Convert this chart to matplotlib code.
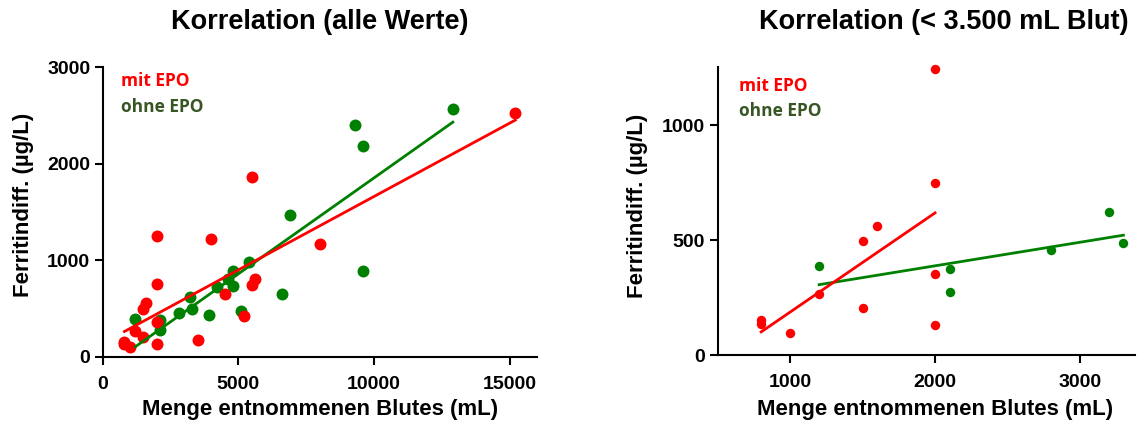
import numpy as np
import matplotlib
matplotlib.use("Agg")
import matplotlib.pyplot as plt

plt.rcParams['font.family'] = ['Liberation Sans', 'DejaVu Sans']
plt.rcParams['font.weight'] = 'bold'

# blood volume (mL) vs. ferritin difference (ug/L)
mit_x = [800, 800, 1000, 1200, 1500, 1500, 1600, 2000, 2000, 2000, 2000,
         3500, 4000, 4500, 5200, 5500, 5500, 5600, 8000, 15200]
mit_y = [152, 135, 97, 267, 495, 205, 560, 1245, 750, 355, 130,
         175, 1215, 650, 420, 1860, 745, 800, 1170, 2520]

ohne_x = [1200, 2100, 2100, 2800, 3200, 3300, 3900, 4200, 4600, 4800,
          4800, 5100, 5400, 6600, 6900, 9300, 9600, 9600, 12900]
ohne_y = [388, 375, 276, 457, 623, 489, 435, 720, 800, 890,
          730, 470, 980, 650, 1470, 2400, 2180, 890, 2560]

cutoff = 3500

RED = '#ff0000'
GREEN = '#008000'
TEXT_GREEN = '#375623'

W, H = 1144, 425
fig = plt.figure(figsize=(W / 100, H / 100), dpi=100)


def px_axes(x0, y0, x1, y1):
    # axes box given in pixel coords (top-left origin)
    return fig.add_axes([x0 / W, 1 - y1 / H, (x1 - x0) / W, (y1 - y0) / H])


def style(ax):
    for s in ['top', 'right']:
        ax.spines[s].set_visible(False)
    for s in ['left', 'bottom']:
        ax.spines[s].set_linewidth(1.5)
    ax.tick_params(axis='both', direction='out', length=6, width=1.5,
                   labelsize=14)
    ax.tick_params(axis='x', pad=8)
    ax.tick_params(axis='y', pad=3)
    for lab in ax.get_xticklabels() + ax.get_yticklabels():
        lab.set_fontweight('bold')


def fit_line(ax, x, y, color):
    x = np.asarray(x, float)
    y = np.asarray(y, float)
    k, d = np.polyfit(x, y, 1)
    xs = np.array([x.min(), x.max()])
    ax.plot(xs, k * xs + d, color=color, lw=2, zorder=3)


def panel(ax, mx, my, ox, oy, ms):
    ax.plot(ox, oy, 'o', color=GREEN, ms=ms, mew=0, zorder=2, clip_on=False)
    fit_line(ax, ox, oy, GREEN)
    ax.plot(mx, my, 'o', color=RED, ms=ms, mew=0, zorder=2, clip_on=False)
    fit_line(ax, mx, my, RED)


# left: all values
ax1 = px_axes(102.7, 67, 537, 356.7)
panel(ax1, mit_x, mit_y, ohne_x, ohne_y, 8.6)
ax1.set_xlim(0, 16000)
ax1.set_ylim(0, 3000)
ax1.set_xticks([0, 5000, 10000, 15000])
ax1.set_yticks([0, 1000, 2000, 3000])
style(ax1)
ax1.text(0.042, 0.934, 'mit EPO', transform=ax1.transAxes, color=RED,
         fontsize=12.5, fontweight='bold', family='Open Sans')
ax1.text(0.042, 0.845, 'ohne EPO', transform=ax1.transAxes, color=TEXT_GREEN,
         fontsize=12.5, fontweight='bold', family='Open Sans')

# right: only samples below the cutoff
mx = [x for x in mit_x if x < cutoff]
my = [y for x, y in zip(mit_x, mit_y) if x < cutoff]
ox = [x for x in ohne_x if x < cutoff]
oy = [y for x, y in zip(ohne_x, ohne_y) if x < cutoff]

ax2 = px_axes(717.7, 66.7, 1135, 355)
panel(ax2, mx, my, ox, oy, 6.8)
ax2.set_xlim(500, 3380)
ax2.set_ylim(0, 1256)
ax2.set_xticks([1000, 2000, 3000])
ax2.set_yticks([0, 500, 1000])
style(ax2)
ax2.text(0.051, 0.916, 'mit EPO', transform=ax2.transAxes, color=RED,
         fontsize=12.5, fontweight='bold', family='Open Sans')
ax2.text(0.051, 0.829, 'ohne EPO', transform=ax2.transAxes, color=TEXT_GREEN,
         fontsize=12.5, fontweight='bold', family='Open Sans')

# titles and axis labels
fig.text(320 / W, 1 - 22 / H, 'Korrelation (alle Werte)', ha='center',
         va='center', fontsize=19.5, fontweight='bold')
fig.text(944 / W, 1 - 22 / H, 'Korrelation (< 3.500 mL Blut)', ha='center',
         va='center', fontsize=19.5, fontweight='bold')
fig.text(320 / W, 1 - 410 / H, 'Menge entnommenen Blutes (mL)', ha='center',
         va='center', fontsize=16, fontweight='bold')
fig.text(935 / W, 1 - 410 / H, 'Menge entnommenen Blutes (mL)', ha='center',
         va='center', fontsize=16, fontweight='bold')
fig.text(24 / W, 1 - 205 / H, 'Ferritindiff. (µg/L)', ha='center',
         va='center', rotation=90, fontsize=16, fontweight='bold')
fig.text(638 / W, 1 - 206 / H, 'Ferritindiff. (µg/L)', ha='center',
         va='center', rotation=90, fontsize=16, fontweight='bold')

fig.savefig('out.png', dpi=100)
